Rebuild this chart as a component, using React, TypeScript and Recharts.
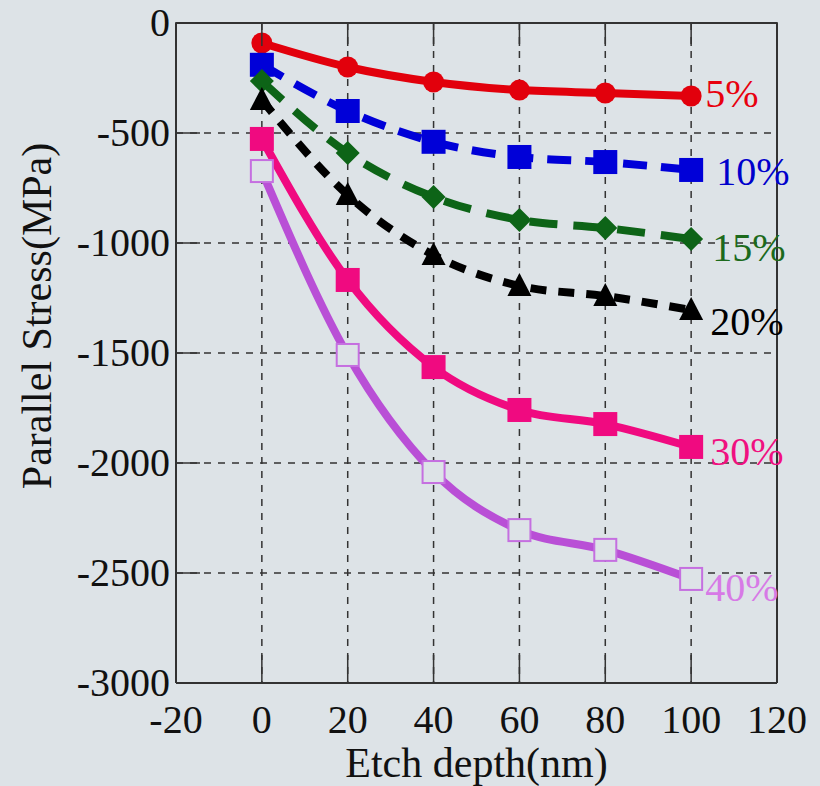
import React from 'react';
import { LineChart, Line, XAxis, YAxis, CartesianGrid, LabelList, Label } from 'recharts';

if (typeof document !== 'undefined') {
  document.body.style.margin = '0';
  document.body.style.background = '#dde3e7';
}

const depths = [0, 20, 40, 60, 80, 100];
const stress5 = [-91, -200, -268, -305, -318, -332];
const stress10 = [-190, -400, -540, -609, -632, -668];
const stress15 = [-264, -591, -791, -895, -932, -982];
const stress20 = [-350, -782, -1055, -1195, -1241, -1305];
const stress30 = [-527, -1168, -1564, -1759, -1823, -1927];
const stress40 = [-673, -1509, -2041, -2305, -2395, -2527];
const seriesNames = ['5%', '10%', '15%', '20%', '30%', '40%'];
const xTicks = [-20, 0, 20, 40, 60, 80, 100, 120];
const yTicks = [0, -500, -1000, -1500, -2000, -2500, -3000];

const data = depths.map((d, i) => ({
  depth: d,
  s5: stress5[i],
  s10: stress10[i],
  s15: stress15[i],
  s20: stress20[i],
  s30: stress30[i],
  s40: stress40[i],
}));

const BG = '#dde3e7';
const FONT = 'Liberation Serif, Times New Roman, Tinos, DejaVu Serif, serif';

type Cfg = {
  key: string;
  name: string;
  color: string;
  labelColor: string;
  dash?: string;
  marker: 'circle' | 'square' | 'diamond' | 'triangle' | 'hollow';
  markerColor: string;
  lx: number;
  ly: number;
};

const series: Cfg[] = [
  { key: 's5', name: seriesNames[0], color: '#e2000c', labelColor: '#e8000e', marker: 'circle', markerColor: '#e2000c', lx: 14, ly: -2 },
  { key: 's10', name: seriesNames[1], color: '#0000d8', labelColor: '#0000cc', dash: '24 14', marker: 'square', markerColor: '#0000d8', lx: 25, ly: 2 },
  { key: 's15', name: seriesNames[2], color: '#0d6417', labelColor: '#1c6a1c', dash: '28 16', marker: 'diamond', markerColor: '#0d6417', lx: 21, ly: 9 },
  { key: 's20', name: seriesNames[3], color: '#000000', labelColor: '#000000', dash: '16 12', marker: 'triangle', markerColor: '#000000', lx: 19, ly: 12 },
  { key: 's30', name: seriesNames[4], color: '#f00a80', labelColor: '#f01080', marker: 'square', markerColor: '#f00a80', lx: 19, ly: 5 },
  { key: 's40', name: seriesNames[5], color: '#b94fd6', labelColor: '#d77ae6', marker: 'hollow', markerColor: '#c56fe0', lx: 14, ly: 9 },
];

const makeDot = (c: Cfg) => (props: any) => {
  const { cx, cy, index } = props;
  if (cx == null || cy == null) return <g key={index} />;
  switch (c.marker) {
    case 'circle':
      return <circle key={index} cx={cx} cy={cy} r={10.5} fill={c.markerColor} />;
    case 'square':
      return <rect key={index} x={cx - 12} y={cy - 12} width={24} height={24} fill={c.markerColor} />;
    case 'diamond':
      return <polygon key={index} points={`${cx},${cy - 12} ${cx + 12},${cy} ${cx},${cy + 12} ${cx - 12},${cy}`} fill={c.markerColor} />;
    case 'triangle':
      return <polygon key={index} points={`${cx},${cy - 13} ${cx + 12},${cy + 10} ${cx - 12},${cy + 10}`} fill={c.markerColor} />;
    default:
      return <rect key={index} x={cx - 11} y={cy - 11} width={22} height={22} fill={BG} stroke={c.markerColor} strokeWidth={2} />;
  }
};

const makeLabel = (c: Cfg) => (props: any) => {
  const { x, y, index } = props;
  if (index !== depths.length - 1) return null;
  return (
    <text x={x + c.lx} y={y + c.ly + 13} fill={c.labelColor} fontFamily={FONT} fontSize={40} textAnchor="start">
      {c.name}
    </text>
  );
};

const LeftTick = (props: any) => {
  const { x, y, payload } = props;
  return (
    <g>
      <text x={x} y={y} dy={13} textAnchor="end" fontFamily={FONT} fontSize={40} fill="#111">
        {payload.value}
      </text>
      <line x1={x + 6} x2={x + 30} y1={y} y2={y} stroke="#333" strokeWidth={1.5} />
    </g>
  );
};

const BottomTick = (props: any) => {
  const { x, y, payload } = props;
  return (
    <g>
      <text x={x} y={y + 44} textAnchor="middle" fontFamily={FONT} fontSize={40} fill="#111">
        {payload.value}
      </text>
      <line x1={x} x2={x} y1={y - 6} y2={y - 34} stroke="#333" strokeWidth={1.5} />
    </g>
  );
};

const TopTick = (props: any) => {
  const { x, y } = props;
  return <line x1={x} x2={x} y1={y} y2={y + 24} stroke="#333" strokeWidth={1.5} />;
};

const RightTick = (props: any) => {
  const { x, y } = props;
  return <line x1={x} x2={x - 30} y1={y} y2={y} stroke="#333" strokeWidth={1.5} />;
};

export default function App() {
  return (
    <div style={{ width: 820, height: 786, background: BG }}>
      <LineChart width={820} height={786} data={data} margin={{ top: 22, right: 42, bottom: 0, left: 0 }}>
        <CartesianGrid xAxisId="b" yAxisId="l" stroke="#333" strokeDasharray="7 7" strokeWidth={1.5} />
        <XAxis
          xAxisId="b"
          dataKey="depth"
          type="number"
          domain={[-20, 120]}
          ticks={xTicks}
          interval={0}
          height={103}
          tickSize={6}
          tickMargin={0}
          tickLine={false}
          axisLine={{ stroke: '#333', strokeWidth: 2 }}
          tick={<BottomTick />}
        >
          <Label
            content={(p: any) => {
              const vb = p.viewBox;
              return (
                <text x={vb.x + vb.width / 2} y={vb.y + 94} textAnchor="middle" fontFamily={FONT} fontSize={42} fill="#111">
                  Etch depth(nm)
                </text>
              );
            }}
          />
        </XAxis>
        <XAxis
          xAxisId="t"
          orientation="top"
          dataKey="depth"
          type="number"
          domain={[-20, 120]}
          ticks={xTicks}
          interval={0}
          height={1}
          tickSize={1}
          tickMargin={0}
          tickLine={false}
          axisLine={{ stroke: '#333', strokeWidth: 2 }}
          tick={<TopTick />}
        />
        <YAxis
          yAxisId="l"
          type="number"
          domain={[-3000, 0]}
          ticks={yTicks}
          interval={0}
          width={176}
          tickSize={6}
          tickMargin={0}
          tickLine={false}
          axisLine={{ stroke: '#333', strokeWidth: 2 }}
          tick={<LeftTick />}
        >
          <Label
            content={(p: any) => {
              const vb = p.viewBox;
              const cx = vb.x + 37;
              const cy = 316;
              return (
                <text x={cx} y={cy} transform={`rotate(-90 ${cx} ${cy})`} dy={14} textAnchor="middle" fontFamily={FONT} fontSize={42} fill="#111">
                  Parallel Stress(MPa)
                </text>
              );
            }}
          />
        </YAxis>
        <YAxis
          yAxisId="r"
          orientation="right"
          type="number"
          domain={[-3000, 0]}
          ticks={yTicks}
          interval={0}
          width={1}
          tickSize={1}
          tickMargin={0}
          tickLine={false}
          axisLine={{ stroke: '#333', strokeWidth: 2 }}
          tick={<RightTick />}
        />
        {series.map((c) => (
          <Line
            key={c.key}
            xAxisId="b"
            yAxisId="l"
            dataKey={c.key}
            type="monotone"
            stroke={c.color}
            strokeWidth={8}
            strokeDasharray={c.dash}
            dot={makeDot(c)}
            activeDot={false}
            isAnimationActive={false}
          >
            <LabelList dataKey={c.key} content={makeLabel(c)} />
          </Line>
        ))}
      </LineChart>
    </div>
  );
}
